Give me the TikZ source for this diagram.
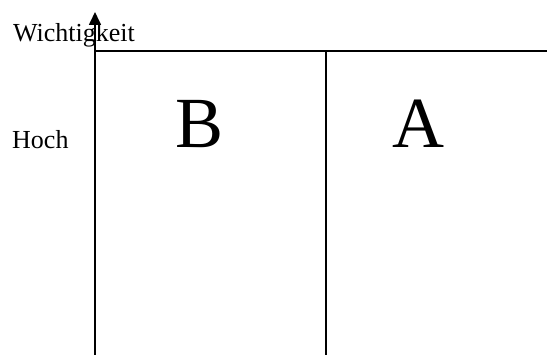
\documentclass[tikz,border=0pt]{standalone}
\usepackage{fontspec}
\setmainfont{Liberation Serif}
\usetikzlibrary{positioning,arrows.meta}

\begin{document}
\begin{tikzpicture}[
    x=1pt, y=1pt,
    line join=miter,
    >={Triangle[length=13pt,width=12pt]},
    axisline/.style={line width=1.6pt},
    axislabel/.style={font=\fontsize{26}{30}\selectfont, inner sep=0pt, anchor=base west},
    bigletter/.style={font=\fontsize{72}{80}\selectfont, inner sep=0pt, anchor=base}
]

% ========= Frame =========
\useasboundingbox (0,0) rectangle (547,355);

% ========= Labels =========
\node[axislabel] (wicht) at (13,313) {Wichtigkeit};
\node[axislabel] (hoch) at (12,206) {Hoch};

\node[bigletter] (b) at (200,207.5) {B};
\node[bigletter] (a) at (418,207.5) {A};

% ========= Axis and grid lines =========
\coordinate (origin) at (95,0);
\coordinate (tip) at (95,343);
\coordinate (corner) at (95,304);
\coordinate (right) at (547,304);
\coordinate (divtop) at (326,304);
\coordinate (divbot) at (326,0);

\draw[axisline,->] (origin) -- (tip);
\draw[axisline] (corner) -- (right);
\draw[axisline] (divtop) -- (divbot);

\end{tikzpicture}
\end{document}
